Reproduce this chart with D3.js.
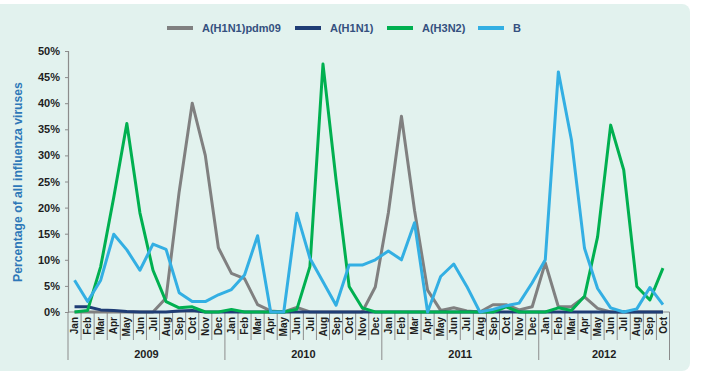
<!DOCTYPE html>
<html>
<head>
<meta charset="utf-8">
<script src="https://cdn.jsdelivr.net/npm/d3@7"></script>
<style>
  body { margin: 0; background: #fff; }
  svg { display: block; font-family: "Liberation Sans", Arial, sans-serif; }
</style>
</head>
<body>
<svg id="chart" width="706" height="374"></svg>
<script>
// months Jan 2009 .. Oct 2012
const monthNames = ["Jan","Feb","Mar","Apr","May","Jun","Jul","Aug","Sep","Oct","Nov","Dec"];
const years = ["2009","2010","2011","2012"];
const monthsPerYear = [12, 12, 12, 10];
const seriesNames = ["A(H1N1)pdm09", "A(H1N1)", "A(H3N2)", "B"];
const seriesColors = ["#808080", "#1f3d75", "#00b050", "#33afe3"];

// percentage of all influenza viruses
const pdm09 = [0,0,0,0,0,0,0,2.7,23,40,30,12.3,
               7.4,6.4,1.4,0.2,0,0.9,0,0,0,0,0,4.8,
               19,37.5,19.5,4.2,0.3,0.8,0.2,0,1.4,1.4,0.4,1.0,
               9.4,1,1,2.9,0.7,0,0,0,0,0];
const h1n1 = [1.0,1.0,0.4,0.3,0.1,0,0,0,0.2,0.3,0,0,
              0,0,0,0,0,0,0,0,0,0,0,0,
              0,0,0,0,0,0,0,0,0,0,0,0,
              0,0,0,0,0,0,0,0,0,0];
const h3n2 = [0,0.3,8.7,22,36.1,19,8,2,0.8,1.0,0,0,
              0.5,0,0,0,0,0.5,8.7,47.5,25.3,4.9,0.8,0,
              0,0,0,0,0,0,0,0,0,1.0,0,0,
              0,0.8,0.3,3,14.4,35.8,27.2,4.9,2.3,8.4];
const fluB = [6.1,2.0,6.1,14.9,11.9,8,13,12,3.7,2,2,3.3,
              4.3,7.1,14.6,0,0,18.9,10.3,5.8,1.3,9.0,9.0,10,
              11.7,10,17.1,0,6.8,9.2,4.9,0,0.5,1.2,1.7,5.6,
              10,46,33,12.2,4.5,0.8,0,0.6,4.7,1.4];

const seriesValues = [pdm09, h1n1, h3n2, fluB];
const yTicks = [0,5,10,15,20,25,30,35,40,45,50];

// month list
let months = [];
years.forEach(function(yr, yi){
  for (let m = 0; m < monthsPerYear[yi]; m++) {
    months.push({ idx: months.length, name: monthNames[m], year: yr });
  }
});

const svg = d3.select("#chart");

svg.append("rect")
  .attr("x", -10).attr("y", 4)
  .attr("width", 700).attr("height", 367)
  .attr("rx", 8)
  .attr("fill", "#e2f2ee");

const plotLeft = 68, plotRight = 669.5, plotTop = 51, plotBottom = 312;

const x = d3.scaleBand()
  .domain(months.map(function(d){ return d.idx; }))
  .range([plotLeft, plotRight])
  .padding(0);
const bw = x.bandwidth();
const cx = function(i){ return x(i) + bw / 2; };

const y = d3.scaleLinear().domain([0, 50]).range([plotBottom, plotTop]);

// y axis
const yAxis = svg.append("g")
  .attr("transform", "translate(" + plotLeft + ",0)")
  .call(d3.axisLeft(y).tickValues(yTicks).tickSize(3).tickPadding(5)
        .tickFormat(function(d){ return d + "%"; }));
yAxis.select(".domain").attr("stroke", "#8c8c8c").attr("stroke-width", 1.2);
yAxis.selectAll(".tick line").attr("stroke", "#8c8c8c");
yAxis.selectAll("text")
  .attr("font-size", 11).attr("font-weight", "bold")
  .attr("fill", "#1e1e1e").attr("font-family", "Liberation Sans, Arial, sans-serif");

svg.append("text")
  .attr("transform", "translate(22,182) rotate(-90)")
  .attr("text-anchor", "middle")
  .attr("font-size", 12.2).attr("font-weight", "bold")
  .attr("fill", "#2e78b8")
  .text("Percentage of all influenza viruses");

// x axis: month boxes
const xg = svg.append("g");
xg.append("line")
  .attr("x1", plotLeft).attr("x2", plotRight)
  .attr("y1", plotBottom).attr("y2", plotBottom)
  .attr("stroke", "#8c8c8c").attr("stroke-width", 1.2);

xg.selectAll("line.sep")
  .data(months.slice(1))
  .enter()
  .append("line")
  .attr("class", "sep")
  .attr("x1", function(d){ return x(d.idx); })
  .attr("x2", function(d){ return x(d.idx); })
  .attr("y1", plotBottom)
  .attr("y2", function(d){ return d.name === "Jan" ? 360 : 340; })
  .attr("stroke", "#8c8c8c").attr("stroke-width", 1);

xg.append("line")
  .attr("x1", plotLeft).attr("x2", plotLeft).attr("y1", plotBottom).attr("y2", 360)
  .attr("stroke", "#8c8c8c");
xg.append("line")
  .attr("x1", plotRight).attr("x2", plotRight).attr("y1", plotBottom).attr("y2", 360)
  .attr("stroke", "#8c8c8c");

xg.selectAll("text.month")
  .data(months)
  .enter()
  .append("text")
  .attr("class", "month")
  .attr("transform", function(d){ return "translate(" + cx(d.idx) + ",317) rotate(-90)"; })
  .attr("text-anchor", "end")
  .attr("dy", "0.36em")
  .attr("font-size", 10).attr("font-weight", "bold")
  .attr("fill", "#1e1e1e")
  .text(function(d){ return d.name; });

let start = 0;
years.forEach(function(yr, yi){
  const first = start, last = start + monthsPerYear[yi] - 1;
  xg.append("text")
    .attr("x", (x(first) + x(last) + bw) / 2)
    .attr("y", 358)
    .attr("text-anchor", "middle")
    .attr("font-size", 11).attr("font-weight", "bold")
    .attr("fill", "#1e1e1e")
    .text(yr);
  start += monthsPerYear[yi];
});

// lines
const line = d3.line()
  .x(function(d, i){ return cx(i); })
  .y(function(d){ return y(d); });

svg.append("g").selectAll("path")
  .data(seriesValues)
  .enter()
  .append("path")
  .attr("d", function(d){ return line(d); })
  .attr("fill", "none")
  .attr("stroke", function(d, i){ return seriesColors[i]; })
  .attr("stroke-width", 3)
  .attr("stroke-linejoin", "round");

// legend
const legendX = [167, 295, 387, 478];
const lg = svg.append("g").selectAll("g")
  .data(seriesNames)
  .enter()
  .append("g")
  .attr("transform", function(d, i){ return "translate(" + legendX[i] + ",28)"; });
lg.append("line")
  .attr("x1", 0).attr("x2", 26)
  .attr("stroke", function(d, i){ return seriesColors[i]; })
  .attr("stroke-width", 4);
lg.append("text")
  .attr("x", 35).attr("dy", "0.35em")
  .attr("font-size", 11).attr("font-weight", "bold")
  .attr("fill", "#34507f")
  .text(function(d){ return d; });
</script>
</body>
</html>
